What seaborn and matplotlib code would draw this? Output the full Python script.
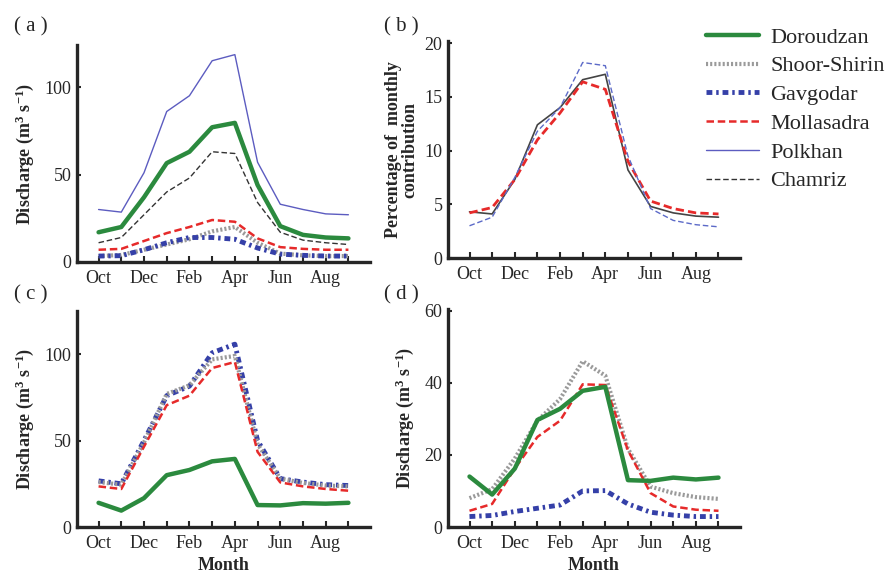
import numpy as np
import pandas as pd
import matplotlib
matplotlib.use("Agg")
import matplotlib.pyplot as plt
import seaborn as sns

# ==============================
# DATA
# ==============================
months = ["Oct", "Nov", "Dec", "Jan", "Feb", "Mar", "Apr", "May", "Jun", "Jul", "Aug", "Sep"]
tick_labels = ["Oct", "", "Dec", "", "Feb", "", "Apr", "", "Jun", "", "Aug", ""]

# (a) discharge
a_doroudzan = [17, 20, 37, 56.5, 63, 77, 79.5, 44, 20.5, 15.5, 14, 13.5]
a_shoor = [3.4, 4, 7, 10, 13, 17.5, 20, 11, 4.8, 3.8, 3.4, 3.4]
a_gavgodar = [3.4, 3.6, 7, 11, 14, 14, 13, 8, 4.5, 3.8, 3.4, 3.4]
a_mollasadra = [7, 7.5, 12, 16.5, 20, 24, 23, 13.5, 8.5, 7.5, 7, 7]
a_polkhan = [30, 28.5, 51, 86, 95, 115, 118.5, 57, 33, 30, 27.5, 27]
a_chamriz = [11, 14, 27, 40, 48, 63, 62, 34, 17, 12.5, 11, 10]

# (b) percentage of monthly contribution
b_black = [4.3, 4.1, 7.3, 12.4, 14, 16.6, 17.1, 8.2, 4.8, 4.2, 3.9, 3.8]
b_red = [4.2, 4.7, 7.3, 11, 13.5, 16.4, 15.7, 9, 5.3, 4.6, 4.2, 4.1]
b_blue = [3, 3.8, 7.5, 11.8, 14, 18.2, 17.9, 9.5, 4.6, 3.5, 3.1, 2.9]

# (c) discharge
c_gavgodar = [26.7, 25, 50, 76, 81.5, 100.8, 105.8, 50, 28, 26, 24.5, 24]
c_shoor = [26, 24.5, 49, 77, 82, 97, 99, 48, 28, 25.5, 24, 23.5]
c_mollasadra = [23.5, 22, 46.5, 70.5, 76, 92, 95.5, 43.5, 25.8, 23.5, 22, 21]
c_doroudzan = [14, 9.5, 16.7, 30, 33, 38, 39.4, 12.7, 12.5, 13.8, 13.5, 14]

# (d) discharge
d_shoor = [8, 10.5, 19, 29.5, 35.5, 46, 42, 21.7, 11.2, 9.4, 8.3, 7.8]
d_mollasadra = [4.5, 6.4, 16.2, 25, 29.5, 39.6, 39.4, 21.3, 9.4, 5.7, 4.8, 4.5]
d_doroudzan = [14, 9, 16.2, 29.7, 32.8, 37.8, 38.9, 13, 12.8, 13.7, 13.2, 13.7]
d_gavgodar = [2.9, 3.2, 4.3, 5.2, 6.1, 10, 10.1, 6.4, 4.1, 3.3, 2.9, 2.9]

# ==============================
# STYLE
# ==============================
sns.set_style("ticks")
plt.rcParams["font.family"] = ["Liberation Serif", "DejaVu Serif"]
plt.rcParams["mathtext.fontset"] = "custom"
plt.rcParams["mathtext.default"] = "regular"
plt.rcParams["mathtext.rm"] = "Liberation Serif"
plt.rcParams["mathtext.bf"] = "Liberation Serif:bold"

styles = {
    "Doroudzan": dict(color="#2b8a3e", lw=3.2, linestyle="-"),
    "Shoor-Shirin": dict(color="#9a9a9a", lw=3.0, linestyle=(0, (0.5, 0.5))),
    "Gavgodar": dict(color="#3540a8", lw=3.5, linestyle=(0, (1.2, 0.8, 0.5, 0.8))),
    "Mollasadra": dict(color="#e62a2a", lw=1.8, linestyle=(0, (3, 1.5))),
    "Polkhan": dict(color="#5c5cc0", lw=1.0, linestyle="-"),
    "Chamriz": dict(color="#333333", lw=1.0, linestyle=(0, (4, 2))),
}

x = np.arange(len(months))
ylab = r"Discharge (m$^{3}$ s$^{-1}$)"

fig = plt.figure(figsize=(8.89, 5.76), dpi=100)
W, H = 889, 576


def make_ax(left, top, right, bottom):
    return fig.add_axes([left / W, 1 - bottom / H, (right - left) / W, (bottom - top) / H])


ax_a = make_ax(77, 45, 370, 262)
ax_b = make_ax(448, 41, 740, 258)
ax_c = make_ax(77, 311, 370, 527)
ax_d = make_ax(448, 309, 740, 527)


def draw(ax, series):
    for name, vals in series:
        sns.lineplot(x=x, y=vals, ax=ax, label=name, **styles[name])


draw(ax_a, [("Doroudzan", a_doroudzan), ("Shoor-Shirin", a_shoor), ("Gavgodar", a_gavgodar),
            ("Mollasadra", a_mollasadra), ("Polkhan", a_polkhan), ("Chamriz", a_chamriz)])
sns.lineplot(x=x, y=b_black, ax=ax_b, color="#444444", lw=1.2)
sns.lineplot(x=x, y=b_red, ax=ax_b, color="#e62a2a", lw=2.0, linestyle=(0, (3, 1.5)))
sns.lineplot(x=x, y=b_blue, ax=ax_b, color="#5c6ac8", lw=1.0, linestyle=(0, (4, 2)))
draw(ax_c, [("Gavgodar", c_gavgodar), ("Shoor-Shirin", c_shoor),
            ("Mollasadra", c_mollasadra), ("Doroudzan", c_doroudzan)])
draw(ax_d, [("Shoor-Shirin", d_shoor), ("Mollasadra", d_mollasadra),
            ("Doroudzan", d_doroudzan), ("Gavgodar", d_gavgodar)])

handles, labels = ax_a.get_legend_handles_labels()
for ax in (ax_a, ax_b, ax_c, ax_d):
    if ax.get_legend() is not None:
        ax.get_legend().remove()

limits = {ax_a: (124, [0, 50, 100]), ax_b: (20.2, [0, 5, 10, 15, 20]),
          ax_c: (125, [0, 50, 100]), ax_d: (60.5, [0, 20, 40, 60])}
for ax, (ytop, yt) in limits.items():
    ax.set_xlim(-0.95, 11.95)
    ax.set_ylim(0, ytop)
    ax.set_yticks(yt)
    ax.set_xticks(x)
    ax.set_xticklabels(tick_labels)
    sns.despine(ax=ax)
    for s in ("left", "bottom"):
        ax.spines[s].set_linewidth(2.4)
    ax.tick_params(axis="x", direction="in", length=4, width=1.5, labelsize=13, pad=6)
    ax.tick_params(axis="y", direction="in", length=3, width=1.5, labelsize=13, pad=4)

ax_a.set_ylabel(ylab, fontsize=13, fontweight="bold", labelpad=6)
ax_c.set_ylabel(ylab, fontsize=13, fontweight="bold", labelpad=6)
ax_d.set_ylabel(ylab, fontsize=13, fontweight="bold", labelpad=6)
ax_b.set_ylabel("Percentage of  monthly\ncontribution", fontsize=13, fontweight="bold",
                labelpad=4, linespacing=0.95)
ax_c.set_xlabel("Month", fontsize=13, fontweight="bold", labelpad=3)
ax_d.set_xlabel("Month", fontsize=13, fontweight="bold", labelpad=3)

# panel tags
for tag, px, py in [("( a )", 14, 27), ("( b )", 384, 27), ("( c )", 14, 295), ("( d )", 384, 295)]:
    fig.text(px / W, 1 - py / H, tag, fontsize=15, va="center", ha="left")

fig.legend(handles, labels, loc="upper left", bbox_to_anchor=(706 / W, 1 - 27 / H),
           frameon=False, fontsize=16, handlelength=2.4, handletextpad=0.5,
           labelspacing=0.37, borderpad=0, borderaxespad=0)

fig.savefig("out.png", dpi=100)
